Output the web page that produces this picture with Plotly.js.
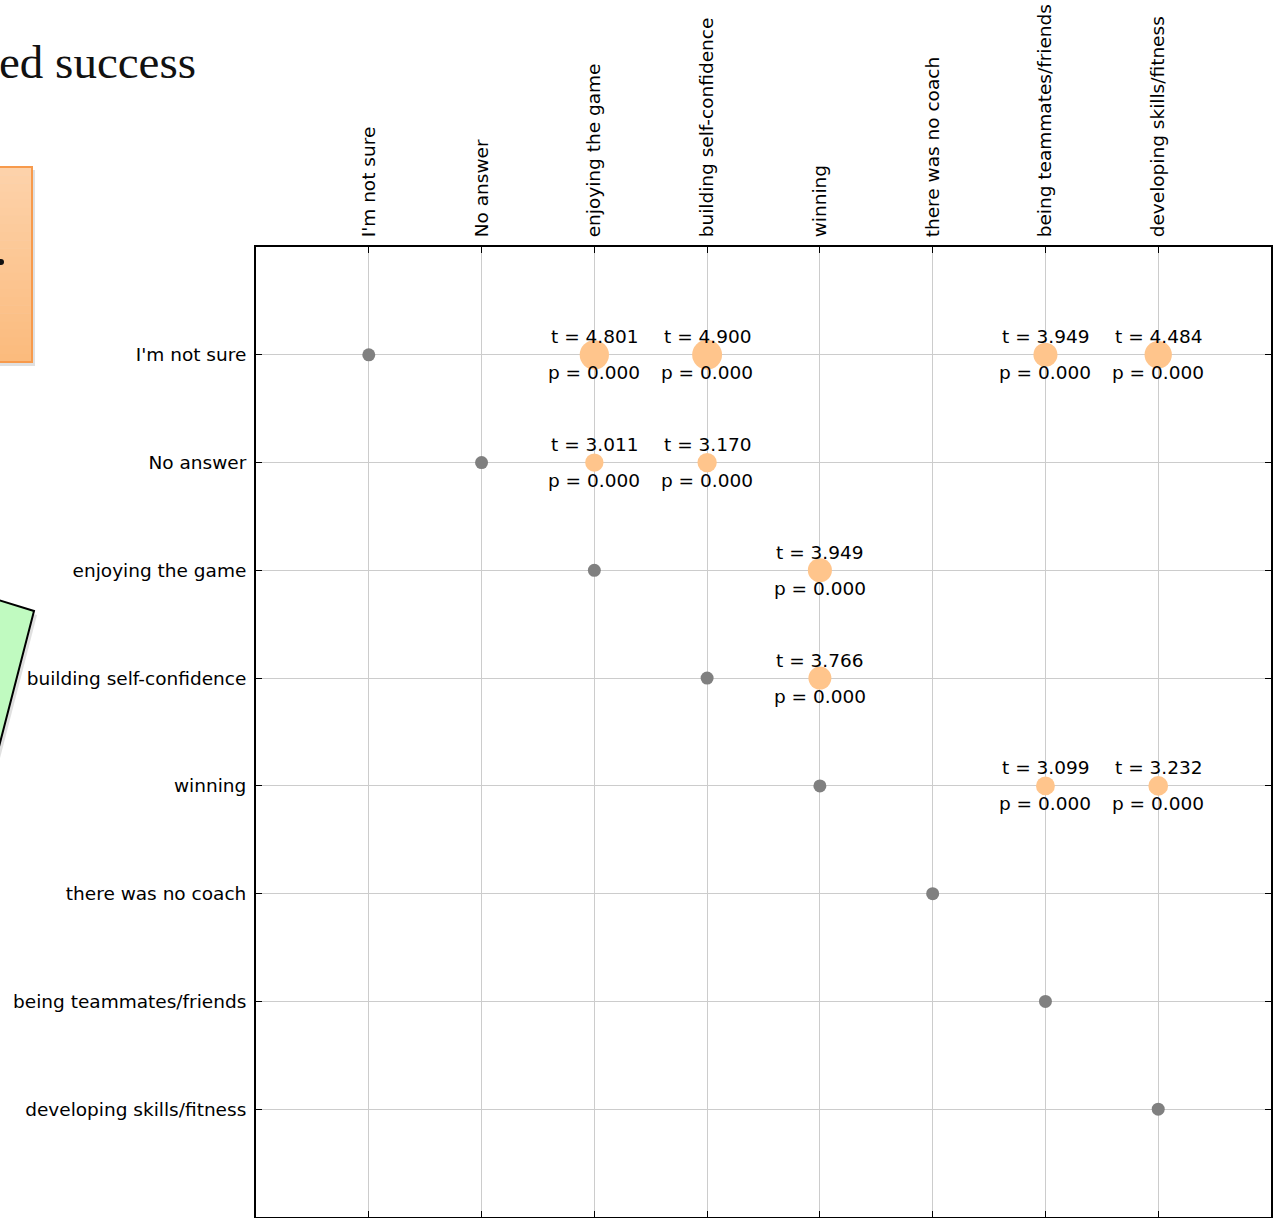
<!DOCTYPE html>
<html>
<head>
<meta charset="utf-8">
<script src="https://cdn.plot.ly/plotly-3.0.1.min.js"></script>
<style>
  html, body { margin: 0; padding: 0; background: #ffffff; }
  #chart { width: 1278px; height: 1218px; }
</style>
</head>
<body>
<div id="chart"></div>
<script>
// Answer categories (shared by rows and columns)
const categories = [
  "I'm not sure",
  "No answer",
  "enjoying the game",
  "building self-confidence",
  "winning",
  "there was no coach",
  "being teammates/friends",
  "developing skills/fitness"
];

// Significant pairwise comparisons
const pairRows = [
  "I'm not sure", "I'm not sure", "I'm not sure", "I'm not sure",
  "No answer", "No answer",
  "enjoying the game",
  "building self-confidence",
  "winning", "winning"
];
const pairCols = [
  "enjoying the game", "building self-confidence", "being teammates/friends", "developing skills/fitness",
  "enjoying the game", "building self-confidence",
  "winning",
  "winning",
  "being teammates/friends", "developing skills/fitness"
];
const tValues = [4.801, 4.900, 3.949, 4.484, 3.011, 3.170, 3.949, 3.766, 3.099, 3.232];
const pValues = [0.000, 0.000, 0.000, 0.000, 0.000, 0.000, 0.000, 0.000, 0.000, 0.000];

const titleText = "ed success";

// Plot frame in page pixels
const W = 1278, H = 1218;
const L = 256, R = 1271, T = 247, B = 1217;
const px = x => (x - L) / (R - L);
const py = y => 1 - (y - T) / (B - T);

const FONT = "DejaVu Sans, sans-serif";
const FSIZE = 18.5;

const diagonal = {
  type: "scatter", mode: "markers",
  x: categories, y: categories,
  marker: { color: "#808080", size: 13, opacity: 1, line: { width: 0 } },
  hoverinfo: "skip", showlegend: false
};

const significant = {
  type: "scatter", mode: "markers",
  x: pairCols, y: pairRows,
  marker: { color: "#ffc58c", size: tValues.map(t => t * 6.1), opacity: 1, line: { width: 0 } },
  hoverinfo: "skip", showlegend: false
};

const annotations = [];
tValues.forEach((t, i) => {
  annotations.push({
    x: pairCols[i], y: pairRows[i], xref: "x", yref: "y",
    text: "t = " + t.toFixed(3), showarrow: false, yshift: 18,
    font: { family: FONT, size: FSIZE, color: "#000000" }
  });
  annotations.push({
    x: pairCols[i], y: pairRows[i], xref: "x", yref: "y",
    text: "p = " + pValues[i].toFixed(3), showarrow: false, yshift: -18,
    font: { family: FONT, size: FSIZE, color: "#000000" }
  });
});

annotations.push({
  xref: "paper", yref: "paper",
  x: px(198), y: py(62), xanchor: "right", yanchor: "middle",
  text: titleText, showarrow: false,
  font: { family: "Liberation Serif, serif", size: 47, color: "#111111" }
});

// Side callouts: gradient orange box and tilted green note
const shapes = [];
const orangeTop = [253, 211, 171], orangeBot = [251, 186, 124];
shapes.push({
  type: "rect", xref: "paper", yref: "paper", layer: "below",
  x0: px(-20), x1: px(35), y0: py(170), y1: py(366),
  fillcolor: "rgba(0,0,0,0.12)", line: { width: 0 }
});
const strips = 24;
for (let k = 0; k < strips; k++) {
  const f = (k + 0.5) / strips;
  const c = orangeTop.map((v, j) => Math.round(v + (orangeBot[j] - v) * f));
  const y0 = 167 + (362 - 167) * k / strips;
  const y1 = 167 + (362 - 167) * (k + 1) / strips;
  shapes.push({
    type: "rect", xref: "paper", yref: "paper", layer: "below",
    x0: px(-20), x1: px(32), y0: py(y0), y1: py(y1 + 0.6),
    fillcolor: "rgb(" + c.join(",") + ")", line: { width: 0 }
  });
}
shapes.push({
  type: "rect", xref: "paper", yref: "paper", layer: "below",
  x0: px(-20), x1: px(32), y0: py(167), y1: py(362),
  fillcolor: "rgba(0,0,0,0)", line: { color: "#f79a4c", width: 2 }
});
shapes.push({
  type: "circle", xref: "paper", yref: "paper", layer: "below",
  x0: px(-2), x1: px(4), y0: py(259), y1: py(265),
  fillcolor: "#111111", line: { width: 0 }
});
const greenPts = [[-40, 588], [34, 611], [-5, 762], [-40, 762]];
const toPath = (pts, dx, dy) => "M " + pts.map(p => px(p[0] + dx) + "," + py(p[1] + dy)).join(" L ") + " Z";
shapes.push({
  type: "path", xref: "paper", yref: "paper", layer: "below",
  path: toPath(greenPts, 3, 4), fillcolor: "rgba(0,0,0,0.12)", line: { width: 0 }
});
shapes.push({
  type: "path", xref: "paper", yref: "paper", layer: "below",
  path: toPath(greenPts, 0, 0), fillcolor: "#c0fac0", line: { color: "#000000", width: 2 }
});

const axisCommon = {
  type: "category",
  categoryorder: "array",
  categoryarray: categories,
  showgrid: true, gridcolor: "#cccccc", gridwidth: 1,
  zeroline: false,
  showline: true, linecolor: "#000000", linewidth: 2,
  mirror: "ticks",
  ticks: "inside", ticklen: 6, tickwidth: 1, tickcolor: "#000000",
  tickfont: { family: FONT, size: FSIZE, color: "#000000" },
  fixedrange: true
};

const layout = {
  width: W, height: H,
  margin: { l: L, r: W - R, t: T, b: H - B, pad: 0 },
  paper_bgcolor: "#ffffff", plot_bgcolor: "#ffffff",
  showlegend: false,
  xaxis: Object.assign({}, axisCommon, {
    side: "top", range: [-1, 8], tickangle: -90, ticklabelstandoff: 4
  }),
  yaxis: Object.assign({}, axisCommon, {
    range: [8, -1], ticklabelstandoff: 4
  }),
  annotations: annotations,
  shapes: shapes
};

Plotly.newPlot("chart", [diagonal, significant], layout, { staticPlot: true, displayModeBar: false });
</script>
</body>
</html>
